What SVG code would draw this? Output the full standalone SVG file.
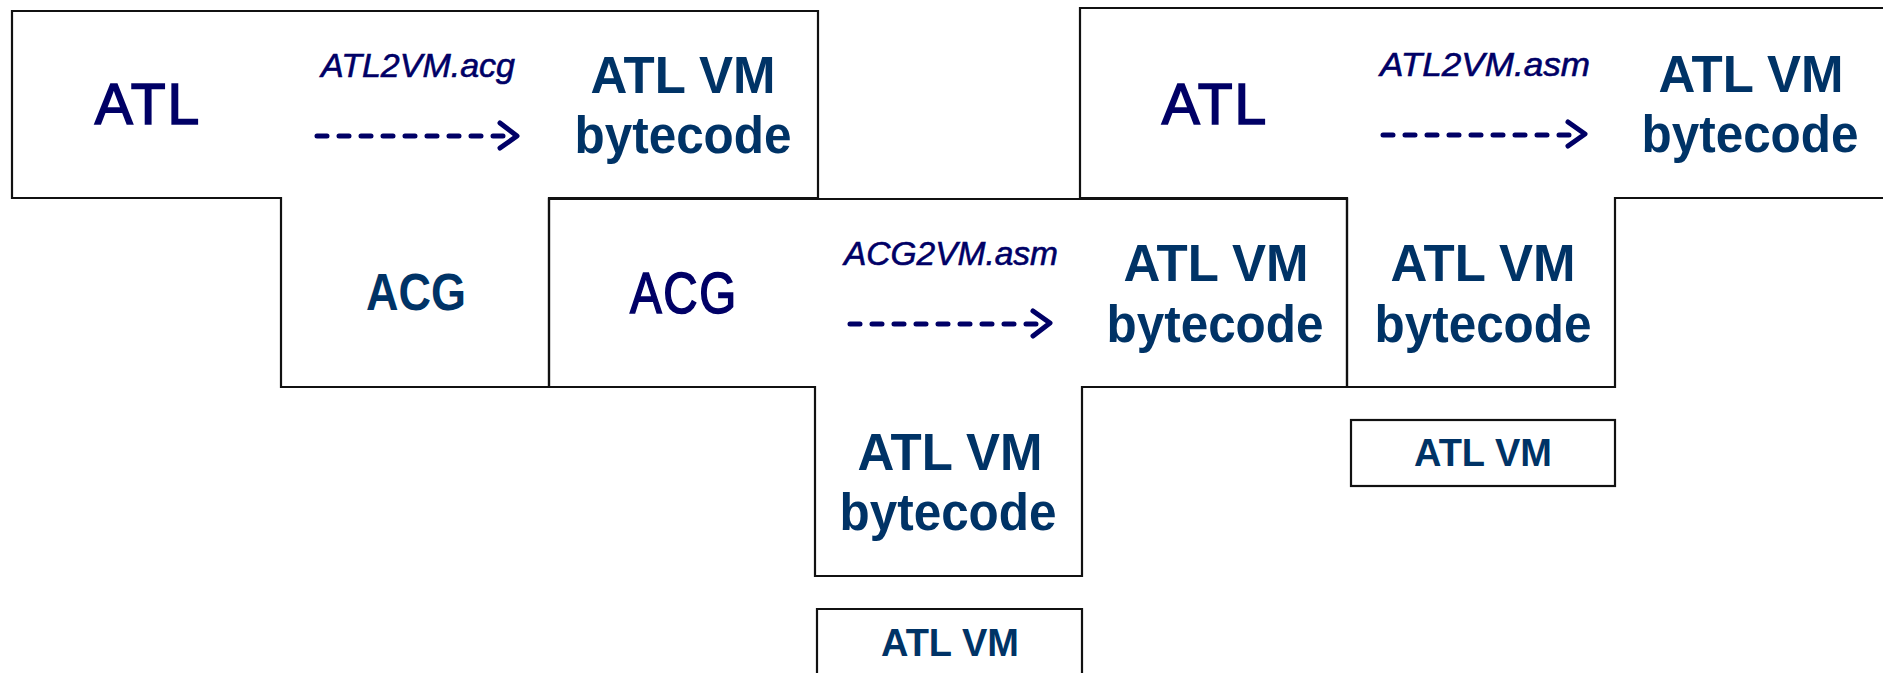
<svg xmlns="http://www.w3.org/2000/svg" width="1883" height="673" viewBox="0 0 1883 673">
<style>
.outline{fill:none;stroke:#111;stroke-width:2.2;stroke-linejoin:miter}
.lang{font-family:"Liberation Sans",Arial,sans-serif;font-size:57px;fill:#000066;stroke:#000066;stroke-width:1.6;text-anchor:middle;letter-spacing:2px}
.bold{font-family:"Liberation Sans",Arial,sans-serif;font-weight:bold;font-size:51px;fill:#003366;text-anchor:middle}
.small{font-family:"Liberation Sans",Arial,sans-serif;font-weight:bold;font-size:38px;fill:#003366;text-anchor:middle}
.prog{font-family:"Liberation Sans",Arial,sans-serif;font-style:italic;font-size:34px;fill:#000066;stroke:#000066;stroke-width:0.6;text-anchor:middle}
.dash{stroke:#000066;stroke-width:5;stroke-linecap:round;stroke-dasharray:10 12;fill:none}
.head{stroke:#000066;stroke-width:5;stroke-linecap:round;stroke-linejoin:round;fill:none}
</style>
<rect width="1883" height="673" fill="#fff"/>
<g id="t1">
<path class="outline" d="M12,11 H818 V198 H549 V387 H281 V198 H12 Z"/>
<text class="lang" x="148" y="124">ATL</text>
<text class="prog" x="418" y="77">ATL2VM.acg</text>
<text class="bold" x="683" y="93">ATL VM</text>
<text class="bold" x="683" y="153" textLength="217" lengthAdjust="spacingAndGlyphs">bytecode</text>
<text class="bold" x="416" y="310" textLength="100" lengthAdjust="spacingAndGlyphs">ACG</text>
</g>
<g id="t2">
<path class="outline" d="M549,199 H1347 V387 H1082 V576 H815 V387 H549 Z"/>
<text class="lang" x="684" y="313" textLength="108" lengthAdjust="spacingAndGlyphs">ACG</text>
<text class="prog" x="951" y="265" textLength="214" lengthAdjust="spacingAndGlyphs">ACG2VM.asm</text>
<text class="bold" x="1216" y="281">ATL VM</text>
<text class="bold" x="1215" y="342" textLength="217" lengthAdjust="spacingAndGlyphs">bytecode</text>
<text class="bold" x="950" y="470">ATL VM</text>
<text class="bold" x="948" y="530" textLength="217" lengthAdjust="spacingAndGlyphs">bytecode</text>
</g>
<g id="t3">
<path class="outline" d="M1080,8 H1895 V198 H1615 V387 H1347 V198 H1080 Z"/>
<text class="lang" x="1215" y="124">ATL</text>
<text class="prog" x="1485" y="76" textLength="210" lengthAdjust="spacingAndGlyphs">ATL2VM.asm</text>
<text class="bold" x="1751" y="92">ATL VM</text>
<text class="bold" x="1750" y="152" textLength="217" lengthAdjust="spacingAndGlyphs">bytecode</text>
<text class="bold" x="1483" y="281">ATL VM</text>
<text class="bold" x="1483" y="342" textLength="217" lengthAdjust="spacingAndGlyphs">bytecode</text>
</g>
<g id="vm1">
<path class="outline" d="M817,685 V609 H1082 V685"/>
<text class="small" x="950" y="656">ATL VM</text>
</g>
<g id="vm2">
<rect class="outline" x="1351" y="420" width="264" height="66"/>
<text class="small" x="1483" y="466">ATL VM</text>
</g>
<g id="connectors">
<line class="dash" x1="317" y1="136" x2="512" y2="136"/>
<polyline class="head" points="500,123 517,136 500,148"/>
<line class="dash" x1="850" y1="324" x2="1046" y2="324"/>
<polyline class="head" points="1033,311 1050,323 1033,336"/>
<line class="dash" x1="1383" y1="135" x2="1581" y2="135"/>
<polyline class="head" points="1568,122 1585,134 1568,146"/>
</g>
</svg>
